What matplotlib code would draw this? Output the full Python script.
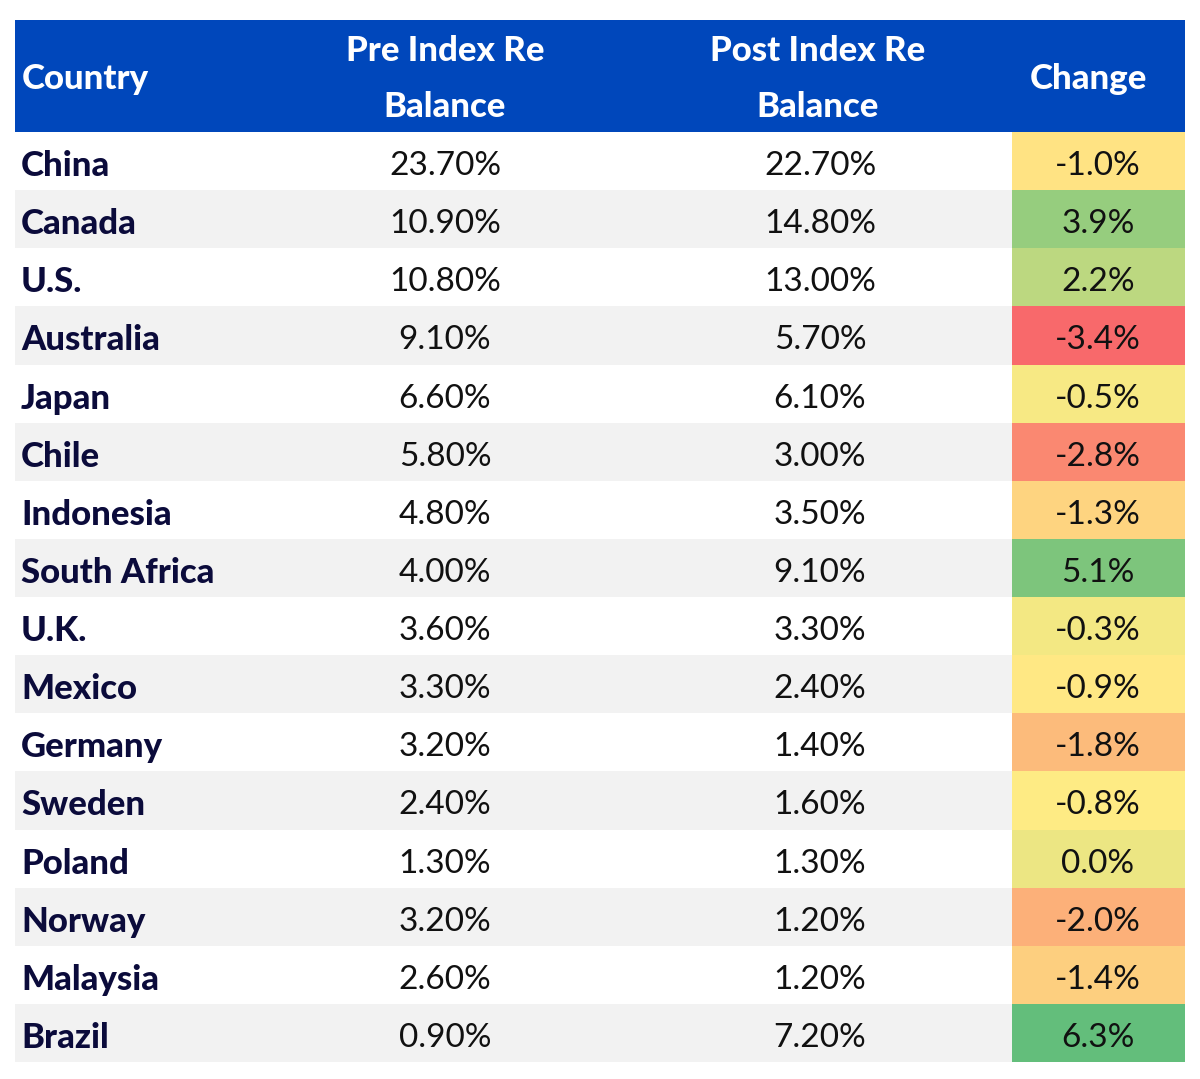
import matplotlib
matplotlib.use("Agg")
import matplotlib.pyplot as plt
import numpy as np
from matplotlib.colors import LinearSegmentedColormap, TwoSlopeNorm

countries = ["China","Canada","U.S.","Australia","Japan","Chile","Indonesia","South Africa",
             "U.K.","Mexico","Germany","Sweden","Poland","Norway","Malaysia","Brazil"]
pre = [23.7,10.9,10.8,9.1,6.6,5.8,4.8,4.0,3.6,3.3,3.2,2.4,1.3,3.2,2.6,0.9]
post = [22.7,14.8,13.0,5.7,6.1,3.0,3.5,9.1,3.3,2.4,1.4,1.6,1.3,1.2,1.2,7.2]
change = [-1.0,3.9,2.2,-3.4,-0.5,-2.8,-1.3,5.1,-0.3,-0.9,-1.8,-0.8,0.0,-2.0,-1.4,6.3]
headers = ["Country","Pre Index Re\nBalance","Post Index Re\nBalance","Change"]

plt.rcParams['font.family'] = ['Lato','DejaVu Sans']
fig = plt.figure(figsize=(12,10.79), dpi=100)
ax = fig.add_axes([0,0,1,1])
ax.set_xlim(0,1200); ax.set_ylim(1079,0); ax.axis('off')

cmap = LinearSegmentedColormap.from_list("ryg", ["#F8696B","#FFEB84","#63BE7B"])
norm = TwoSlopeNorm(vmin=min(change), vcenter=float(np.median(change)), vmax=max(change))

x0, x1 = 15, 1185
htop, hbot = 20, 132
rh = (1062-hbot)/len(countries)
ax.add_patch(plt.Rectangle((x0,htop), x1-x0, hbot-htop, color="#0047BB", lw=0))
hx = [22, 445, 818, 1088]
ha = ["left","center","center","center"]
for h,x,a in zip(headers,hx,ha):
    ax.text(x, (htop+hbot)/2+3, h, ha=a, va="center", color="white", fontsize=25,
            fontweight="black", linespacing=1.95)
for i,c in enumerate(countries):
    y = hbot + i*rh
    ax.add_patch(plt.Rectangle((x0,y), x1-x0, rh, color="#F2F2F2" if i%2 else "white", lw=0))
    ax.add_patch(plt.Rectangle((1012,y), x1-1012, rh, color=cmap(norm(change[i])), lw=0))
    yc = y + rh/2 + 5
    ax.text(21, yc, c, ha="left", va="center", fontsize=25, fontweight="black", color="#0B0B3B")
    ax.text(445, yc, f"{pre[i]:.2f}%", ha="center", va="center", fontsize=24, color="#111111")
    ax.text(820, yc, f"{post[i]:.2f}%", ha="center", va="center", fontsize=24, color="#111111")
    ax.text(1098, yc, f"{change[i]:.1f}%", ha="center", va="center", fontsize=24, color="#111111")
fig.savefig("out.png", dpi=100, facecolor="white")
